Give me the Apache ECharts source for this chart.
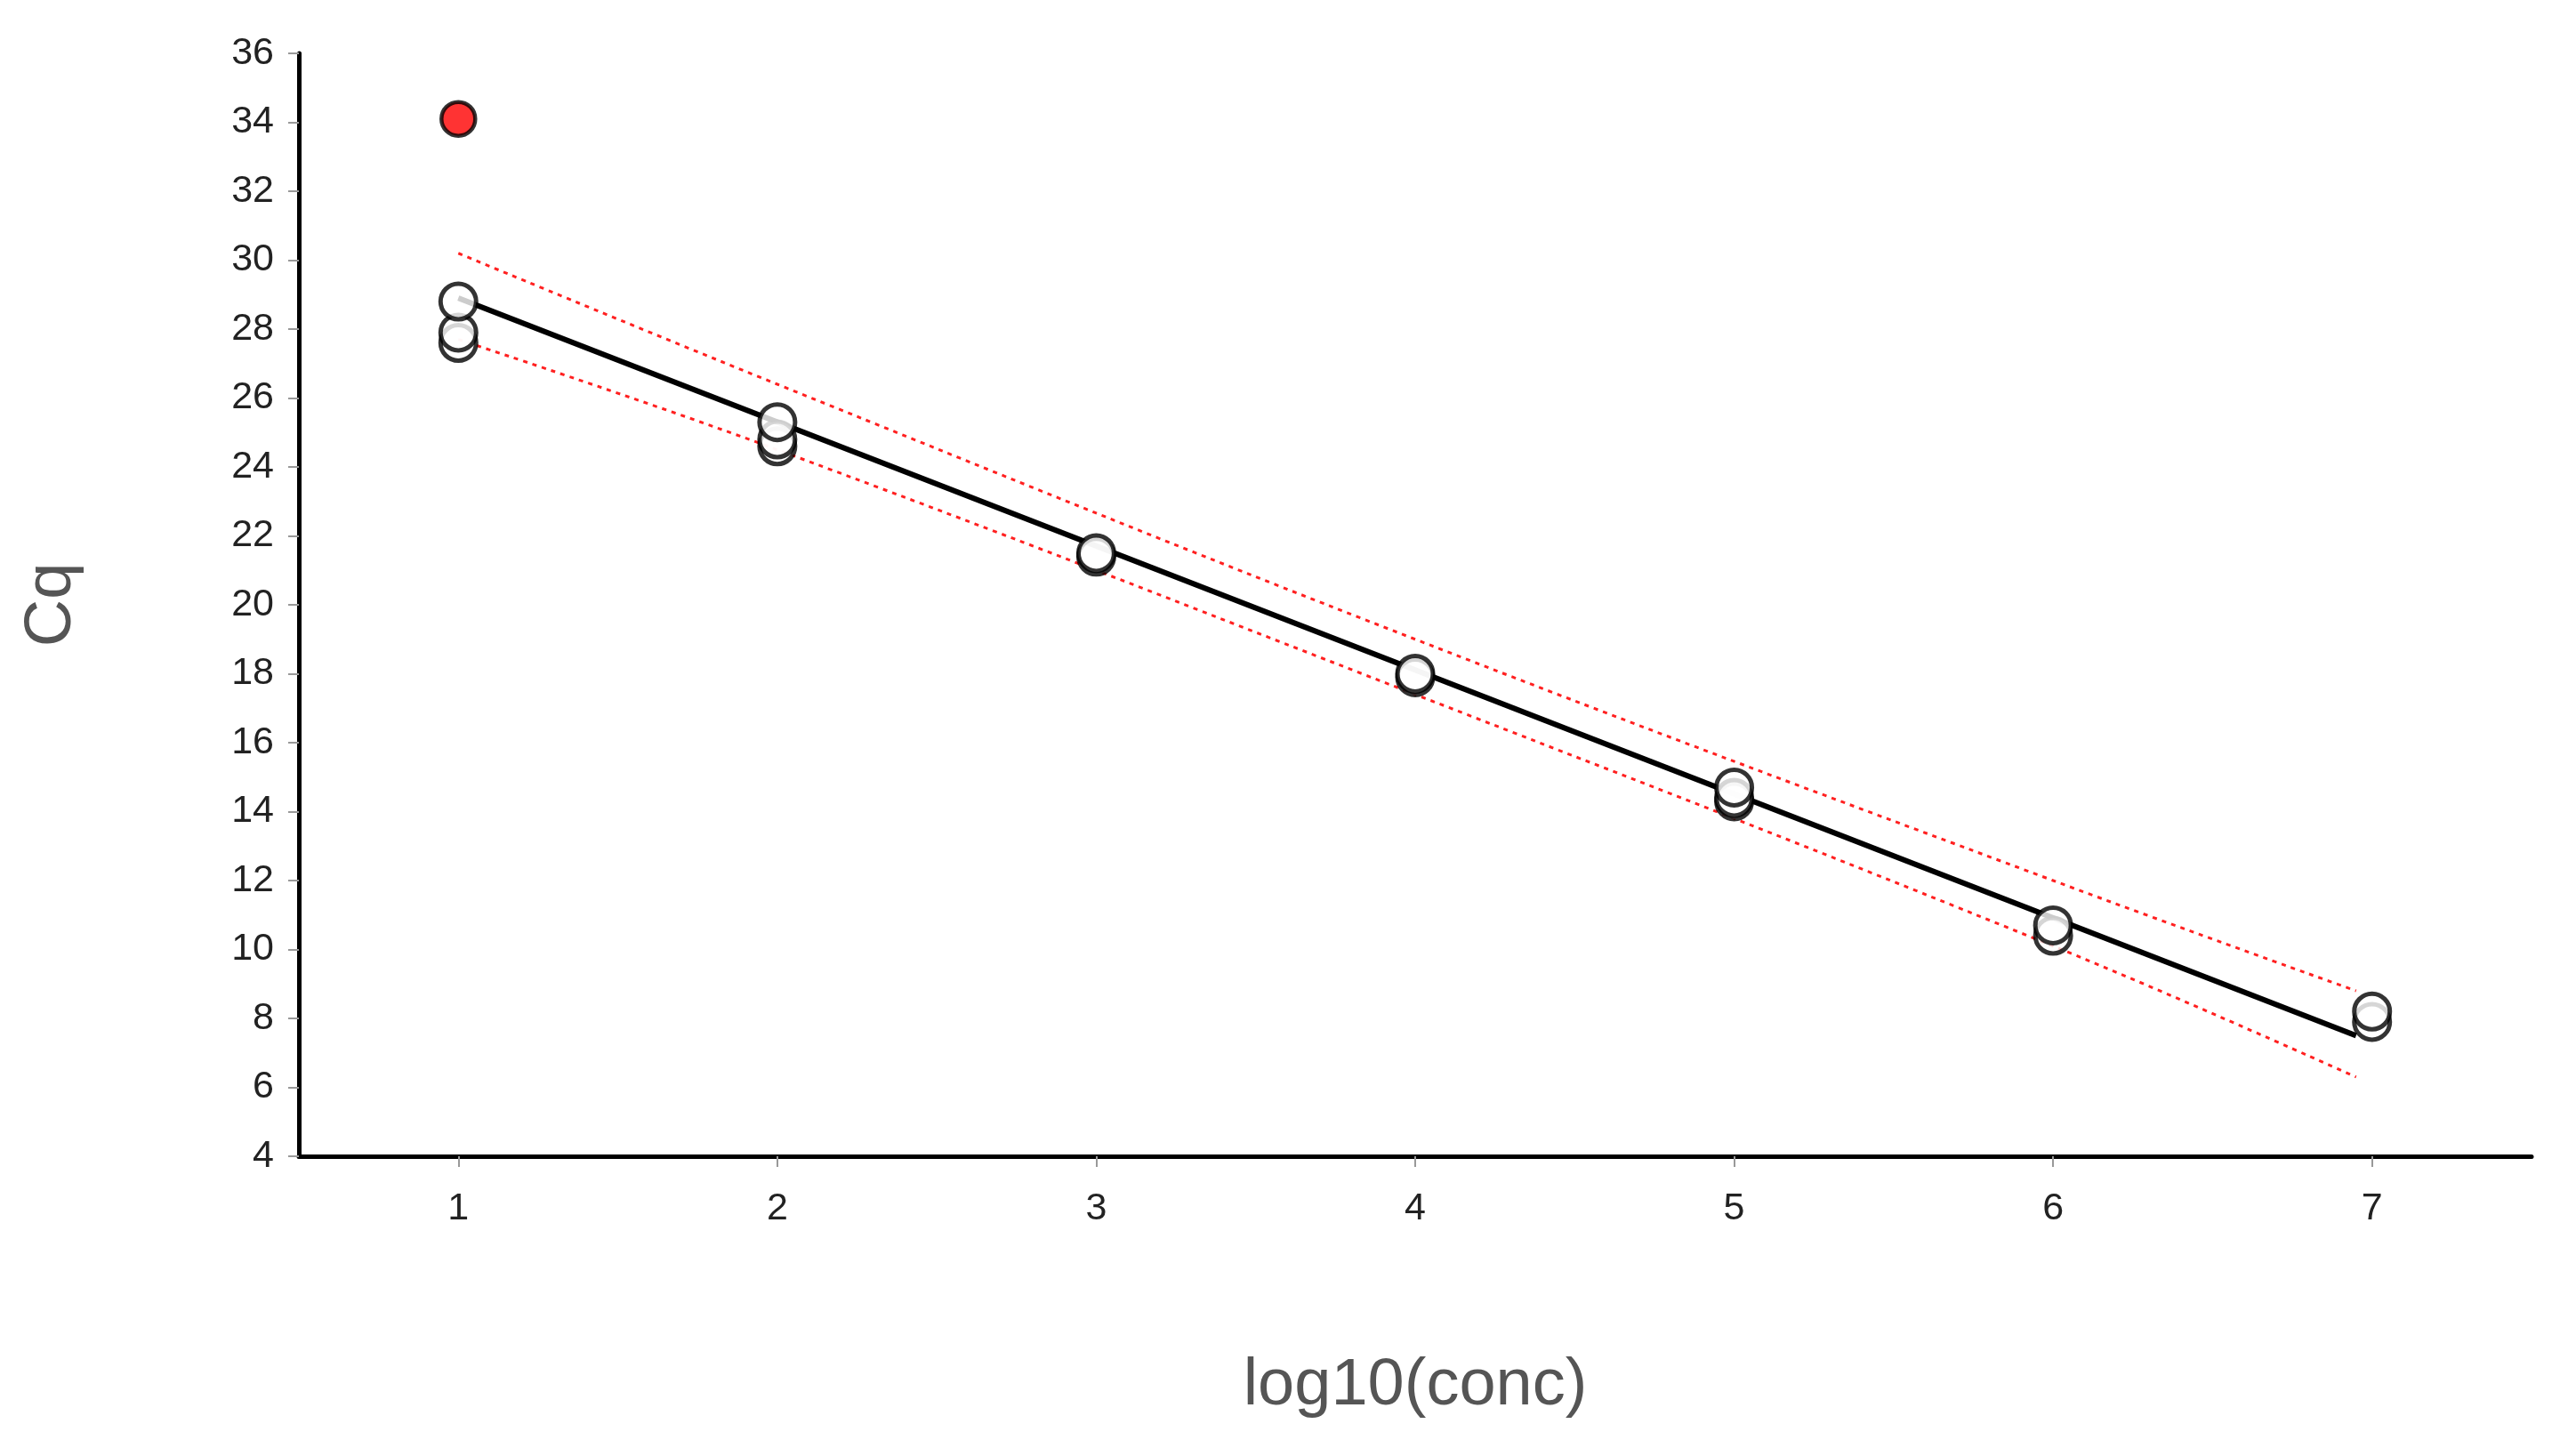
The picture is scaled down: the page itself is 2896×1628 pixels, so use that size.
<!DOCTYPE html>
<html><head><meta charset="utf-8">
<script src="https://cdn.jsdelivr.net/npm/echarts@6/dist/echarts.min.js"></script>
<style>html,body{margin:0;padding:0;background:#fff}#c{width:2896px;height:1628px}</style>
</head><body><div id="c"></div>
<script>
const xTicks = [1,2,3,4,5,6,7];
const yTicks = [4,6,8,10,12,14,16,18,20,22,24,26,28,30,32,34,36];
const pointsX = [1,1,1,2,2,2,3,3,4,4,5,5,5,6,6,7,7];
const pointsCq = [27.6,27.9,28.8,24.6,24.8,25.3,21.4,21.5,17.9,18.0,14.3,14.4,14.7,10.4,10.7,7.9,8.2];
const outlierX = [1];
const outlierCq = [34.1];
const fitX = [1,6.95];
const fitCq = [28.9,7.5];
const bandX = [1,2,4,6,6.95];
const upperCq = [30.2,26.4,19.0,12.0,8.8];
const lowerCq = [27.7,24.5,17.4,10.1,6.3];

const zip = (a,b)=>a.map((v,i)=>[v,b[i]]);
const chart = echarts.init(document.getElementById('c'));
chart.setOption({
  animation:false,
  grid:{left:336,right:50,top:60,bottom:328},
  xAxis:{type:'value',min:0.5,max:7.5,
    name:'log10(conc)',nameLocation:'middle',nameGap:222,
    nameTextStyle:{fontSize:74,color:'#555',fontFamily:'Liberation Sans'},
    axisLine:{lineStyle:{color:'#000',width:5}},
    axisTick:{show:true,length:12,lineStyle:{color:'#999',width:2},customValues:xTicks},
    axisLabel:{fontSize:43,color:'#222',margin:38,fontFamily:'Liberation Sans',customValues:xTicks},
    splitLine:{show:false}},
  yAxis:{type:'value',min:4,max:36,interval:2,
    name:'Cq',nameLocation:'middle',nameGap:240,
    nameTextStyle:{fontSize:74,color:'#555',fontFamily:'Liberation Sans'},
    axisLine:{show:true,lineStyle:{color:'#000',width:5}},
    axisTick:{show:true,length:12,lineStyle:{color:'#999',width:2}},
    axisLabel:{fontSize:43,color:'#222',margin:28,fontFamily:'Liberation Sans'},
    splitLine:{show:false}},
  series:[
    {type:'line',data:zip(fitX,fitCq),symbol:'none',lineStyle:{color:'#000',width:6},z:2},
    {type:'line',data:zip(bandX,upperCq),symbol:'none',smooth:0.4,lineStyle:{color:'#ff2020',width:3,type:[5,6]},z:2},
    {type:'line',data:zip(bandX,lowerCq),symbol:'none',smooth:0.4,lineStyle:{color:'#ff2020',width:3,type:[5,6]},z:2},
    {type:'scatter',data:zip(pointsX,pointsCq),symbolSize:40,
      itemStyle:{color:'#fff',borderColor:'#000',borderWidth:5},z:3},
    {type:'scatter',data:zip(outlierX,outlierCq),symbolSize:38,
      itemStyle:{color:'#ff0000',borderColor:'#000',borderWidth:4.5},z:3}
  ]
});
</script></body></html>
